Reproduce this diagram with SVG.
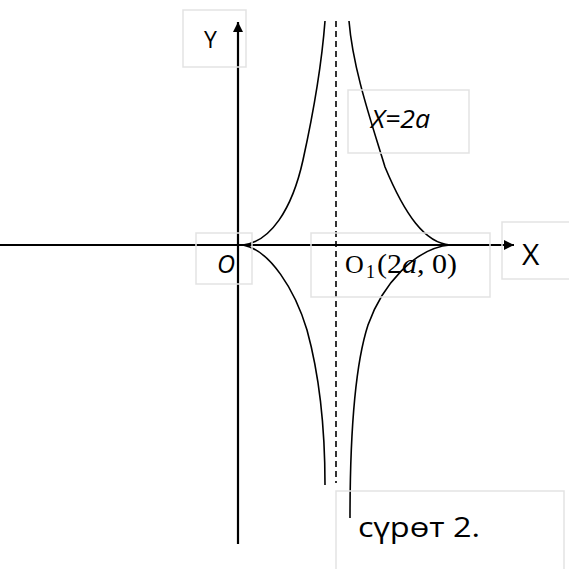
<svg xmlns="http://www.w3.org/2000/svg" width="569" height="569" viewBox="0 0 569 569">
<defs>
<style>
.box{fill:none;stroke:#e3e3e3;stroke-width:1.5}
.axis{stroke:#000;stroke-width:2.2;fill:none}
.curve{stroke:#000;stroke-width:1.6;fill:none}
.dash{stroke:#000;stroke-width:1.6;stroke-dasharray:6,4;fill:none}
.sans{font-family:"Open Sans","Noto Sans","DejaVu Sans",sans-serif;fill:#000}
.serif{font-family:"Liberation Serif","DejaVu Serif",serif;fill:#000}
</style>
<marker id="arr" viewBox="0 0 10 10" refX="10" refY="5" markerWidth="10" markerHeight="10" markerUnits="userSpaceOnUse" orient="auto">
<path d="M0,0 L10,5 L0,10 z" fill="#000"/>
</marker>
</defs>
<rect width="569" height="569" fill="#fff"/>
<g id="connectors">
<line class="axis" x1="0" y1="245" x2="514" y2="245" marker-end="url(#arr)"/>
<line class="axis" x1="238" y1="544" x2="238" y2="22" marker-end="url(#arr)"/>
<line class="dash" x1="336" y1="21" x2="336" y2="483"/>
<path class="curve" d="M243,245 C270,242 292,210 303,160 C314,110 322,60 325,21"/>
<path class="curve" d="M450,245 C425,243 405,215 385,167 C372,124 353,70 349,21"/>
<path class="curve" d="M243,245 C270,250 295,290 307,330 C318,370 325,420 325,485"/>
<path class="curve" d="M450,245 C415,248 382,285 368,325 C355,365 350,430 350,518"/>
</g>
<g id="label-y">
<rect class="box" x="183" y="10" width="63" height="57"/>
<text class="sans" x="204" y="48" font-size="23">Y</text>
</g>
<g id="label-x2a">
<rect class="box" x="348" y="90" width="121" height="63"/>
<text class="sans" x="371" y="128" font-size="25" font-style="italic" textLength="59" lengthAdjust="spacingAndGlyphs">X=2a</text>
</g>
<g id="label-o">
<rect class="box" x="196" y="233" width="56" height="51"/>
<text class="sans" x="217" y="273" font-size="25" font-style="italic">O</text>
</g>
<g id="label-o1">
<rect class="box" x="311" y="233" width="179" height="64"/>
<text class="serif" x="345" y="273" font-size="26">O</text>
<text class="serif" x="366" y="278" font-size="18">1</text>
<text class="serif" x="377" y="273" font-size="28" textLength="80" lengthAdjust="spacingAndGlyphs">(2<tspan font-style="italic">a</tspan>, 0)</text>
</g>
<g id="label-x">
<rect class="box" x="502" y="222" width="80" height="57"/>
<text class="sans" x="522" y="265" font-size="30">X</text>
</g>
<g id="label-caption">
<rect class="box" x="336" y="491" width="228" height="90"/>
<text class="sans" x="358" y="537" font-size="28" textLength="122" lengthAdjust="spacingAndGlyphs">сүрөт 2.</text>
</g>
</svg>
